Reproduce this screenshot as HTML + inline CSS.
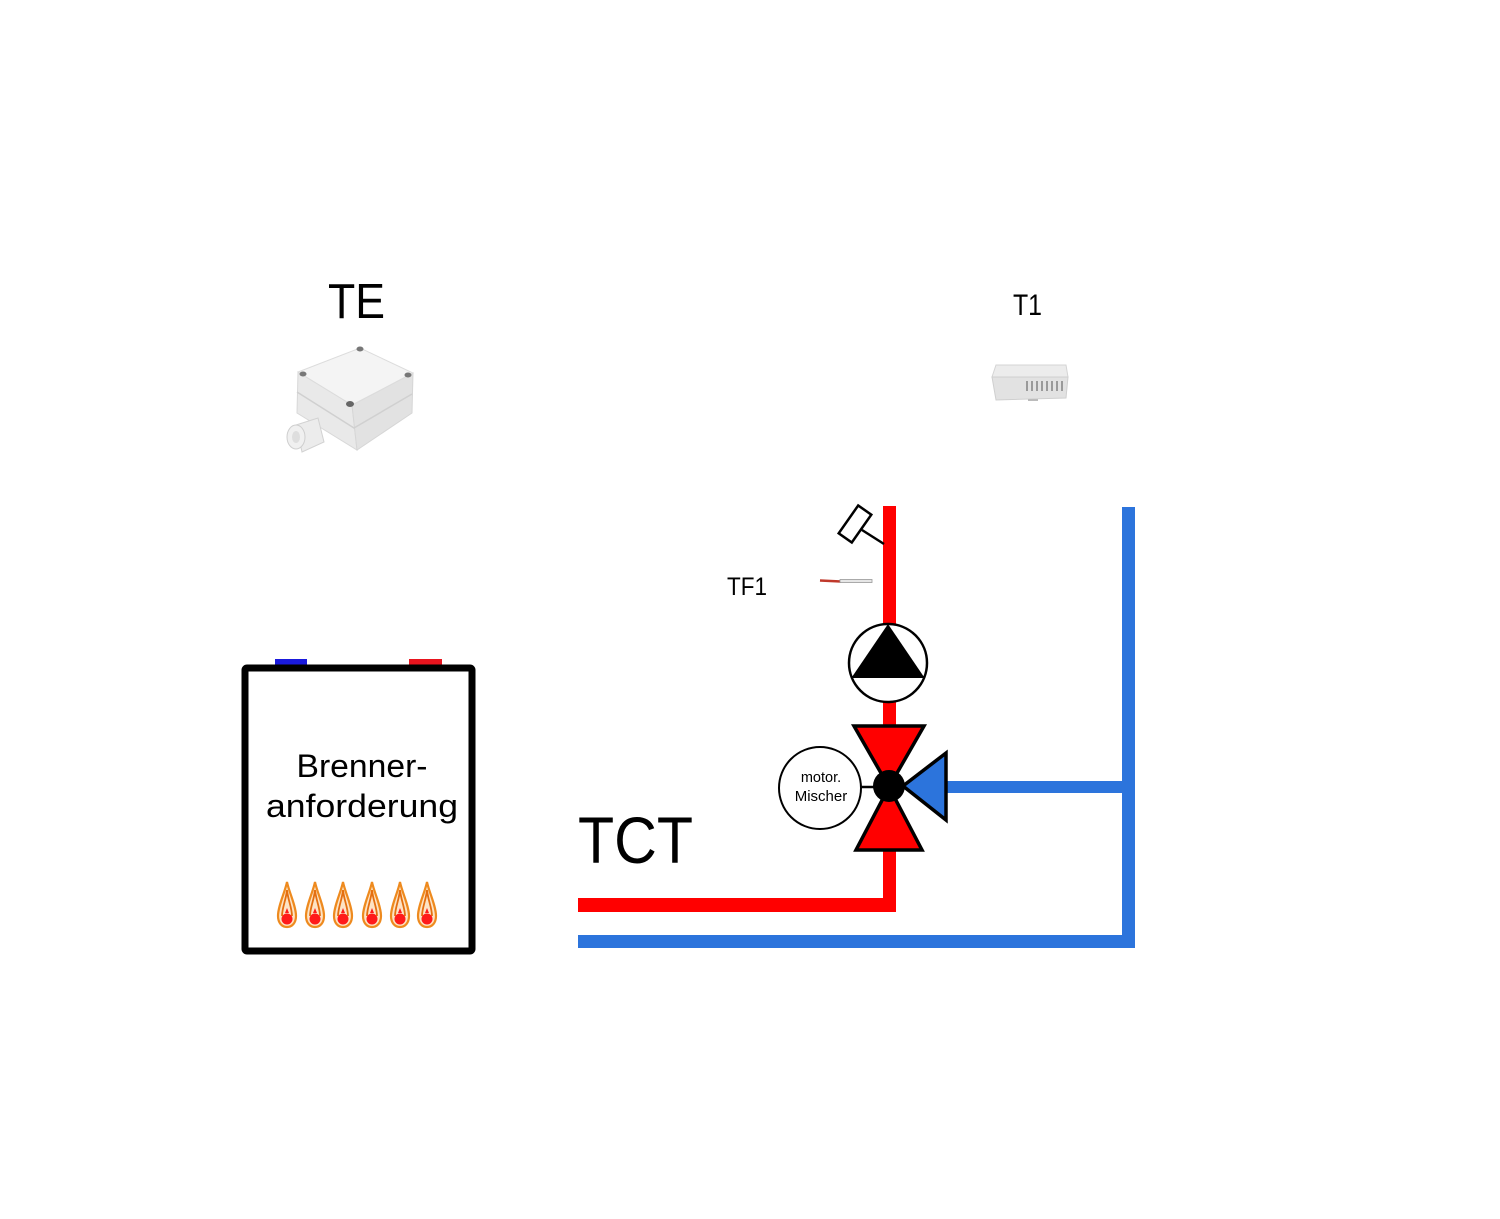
<!DOCTYPE html>
<html><head><meta charset="utf-8"><style>
html,body{margin:0;padding:0;background:#fff;}
svg{display:block;}
text{font-family:"Liberation Sans",sans-serif;fill:#000;}
</style></head><body>
<svg width="1500" height="1219" viewBox="0 0 1500 1219" xmlns="http://www.w3.org/2000/svg">
<rect width="1500" height="1219" fill="#fff"/>

<!-- TE label -->
<text x="328" y="318" font-size="49" textLength="57" lengthAdjust="spacingAndGlyphs">TE</text>
<!-- TE junction box -->
<g>
  <!-- left face -->
  <polygon points="298,372 352,405 357,450 297,413" fill="#e9e9e9" stroke="#d8d8d8" stroke-width="1"/>
  <!-- right face -->
  <polygon points="352,405 413,373 412,413 357,450" fill="#e2e2e2" stroke="#d6d6d6" stroke-width="1"/>
  <!-- lid seam -->
  <polyline points="297,392 354,428 412,394" fill="none" stroke="#d0d0d0" stroke-width="1.5"/>
  <!-- top face -->
  <polygon points="360,348 413,373 352,405 298,372" fill="#f4f4f4" stroke="#dcdcdc" stroke-width="1"/>
  <!-- screws -->
  <ellipse cx="360" cy="349" rx="3.5" ry="2.5" fill="#777"/>
  <ellipse cx="303" cy="374" rx="3.5" ry="2.5" fill="#777"/>
  <ellipse cx="408" cy="375" rx="3.5" ry="2.5" fill="#777"/>
  <ellipse cx="350" cy="404" rx="4" ry="3" fill="#666"/>
  <!-- cable gland -->
  <polygon points="296,425 318,418 324,442 302,452" fill="#ececec" stroke="#d2d2d2" stroke-width="1"/>
  <ellipse cx="296" cy="437" rx="9" ry="12" fill="#f0f0f0" stroke="#cfcfcf" stroke-width="1"/>
  <ellipse cx="296" cy="437" rx="4" ry="6" fill="#dedede"/>
</g>

<!-- T1 label -->
<text x="1013" y="315" font-size="30" textLength="29" lengthAdjust="spacingAndGlyphs">T1</text>
<!-- T1 device -->
<g>
  <polygon points="996,365 1066,365 1068,377 992,377" fill="#ececec" stroke="#d4d4d4" stroke-width="1"/>
  <polygon points="992,377 1068,377 1066,398 996,400" fill="#e2e2e2" stroke="#cfcfcf" stroke-width="1"/>
  <g fill="#9a9a9a">
    <rect x="1026" y="381" width="2" height="10"/><rect x="1031" y="381" width="2" height="10"/>
    <rect x="1036" y="381" width="2" height="10"/><rect x="1041" y="381" width="2" height="10"/>
    <rect x="1046" y="381" width="2" height="10"/><rect x="1051" y="381" width="2" height="10"/>
    <rect x="1056" y="381" width="2" height="10"/><rect x="1061" y="381" width="2" height="10"/>
  </g>
  <rect x="1028" y="399" width="10" height="2" fill="#bbb"/>
</g>

<!-- Pipes -->
<rect x="883" y="506" width="13" height="406" fill="#ff0000"/>
<rect x="578" y="898" width="318" height="14" fill="#ff0000"/>
<rect x="1122" y="507" width="13" height="441" fill="#2c74dc"/>
<rect x="578" y="935" width="557" height="13" fill="#2c74dc"/>
<rect x="940" y="781" width="195" height="12" fill="#2c74dc"/>

<!-- Sensor near pipe -->
<rect x="847" y="507" width="16" height="34" fill="#fff" stroke="#000" stroke-width="2.5" transform="rotate(35 855 524)"/>
<line x1="862" y1="530" x2="884" y2="544" stroke="#000" stroke-width="2.5"/>

<!-- TF1 -->
<text x="727" y="595" font-size="25" textLength="40" lengthAdjust="spacingAndGlyphs">TF1</text>
<line x1="820" y1="580.5" x2="841" y2="581.5" stroke="#c0392b" stroke-width="2.5"/>
<rect x="840" y="579.5" width="32" height="3" fill="#e6e6e6" stroke="#999" stroke-width="0.8"/>

<!-- Pump -->
<circle cx="888" cy="663" r="39" fill="#fff" stroke="#000" stroke-width="2.5"/>
<polygon points="888,624 852,677 924,677" fill="#000"/>
<line x1="852" y1="677" x2="924" y2="677" stroke="#000" stroke-width="2"/>

<!-- Mixer -->
<line x1="861" y1="787" x2="875" y2="787" stroke="#000" stroke-width="2.5"/>
<circle cx="820" cy="788" r="41" fill="#fff" stroke="#000" stroke-width="2"/>
<text x="821" y="782" font-size="14.5" text-anchor="middle">motor.</text>
<text x="821" y="801" font-size="15" text-anchor="middle">Mischer</text>
<polygon points="854,726 924,726 889,787" fill="#ff0000" stroke="#000" stroke-width="3.5" stroke-linejoin="miter"/>
<polygon points="856,850 922,850 889,787" fill="#ff0000" stroke="#000" stroke-width="3.5"/>
<polygon points="903,786 946,753 946,820" fill="#2c74dc" stroke="#000" stroke-width="3.5"/>
<circle cx="889" cy="786" r="16" fill="#000"/>

<!-- TCT -->
<text x="578" y="863" font-size="66" textLength="115" lengthAdjust="spacingAndGlyphs">TCT</text>

<!-- Boiler -->
<rect x="275" y="659" width="32" height="6" fill="#1a1adc"/>
<rect x="409" y="659" width="33" height="6" fill="#e8141e"/>
<rect x="245" y="668" width="227" height="283" rx="2" fill="#fff" stroke="#000" stroke-width="7"/>
<text x="362" y="777" font-size="32" text-anchor="middle" textLength="131" lengthAdjust="spacingAndGlyphs">Brenner-</text>
<text x="362" y="817" font-size="32" text-anchor="middle" textLength="192" lengthAdjust="spacingAndGlyphs">anforderung</text>

<!-- Flames -->
<defs>
  <g id="flame">
    <path d="M0,-22 C2,-12 9,2 9,12 C9,19 5,23 0,23 C-5,23 -9,19 -9,12 C-9,2 -2,-12 0,-22Z" fill="#fde3c4" stroke="#ee8a1e" stroke-width="2.2"/>
    <path d="M0,-14 C-1,-4 -5,4 -5,12 M0,-14 C1,-4 5,4 5,12" fill="none" stroke="#e46f10" stroke-width="1.8"/>
    <circle cx="0" cy="15" r="5.5" fill="#ff1a1a"/>
    <path d="M-2,9 L0,4 L2,9Z" fill="#ff1a1a"/>
  </g>
</defs>
<use href="#flame" x="287" y="904"/>
<use href="#flame" x="315" y="904"/>
<use href="#flame" x="343" y="904"/>
<use href="#flame" x="372" y="904"/>
<use href="#flame" x="400" y="904"/>
<use href="#flame" x="427" y="904"/>
</svg>
</body></html>
